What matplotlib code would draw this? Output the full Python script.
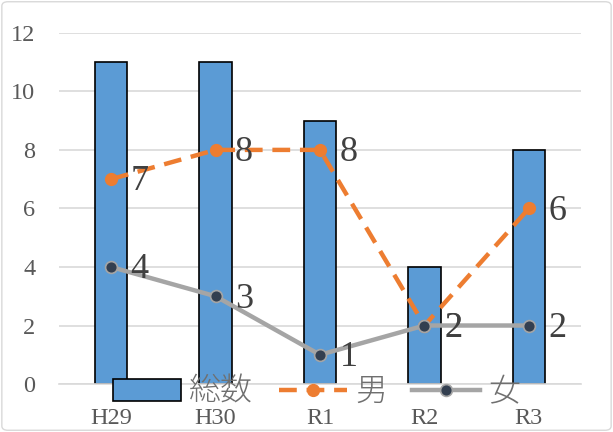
import matplotlib
matplotlib.use("Agg")
import matplotlib.pyplot as plt
from matplotlib.patches import FancyBboxPatch

categories = ["H29", "H30", "R1", "R2", "R3"]
total = [11, 11, 9, 4, 8]
male = [7, 8, 8, 2, 6]
female = [4, 3, 1, 2, 2]
yticks = [0, 2, 4, 6, 8, 10, 12]

serif = ["Liberation Serif", "DejaVu Serif"]
cjk = ["Noto Sans CJK JP", "DejaVu Sans"]

fig = plt.figure(figsize=(6.13, 4.32), dpi=100)
ax = fig.add_axes([0.096, 0.111, 0.852, 0.813])

x = list(range(len(categories)))
h_bar = ax.bar(x, total, width=0.31, color="#5B9BD5", edgecolor="black", linewidth=1.2,
               label="総数", zorder=2)
h_m, = ax.plot(x, male, color="#ED7D31", linestyle=(0, (4.0, 2.2)), linewidth=3.2,
               marker="o", markersize=8.5, markerfacecolor="#ED7D31",
               markeredgecolor="#ED7D31", label="男", zorder=3)
h_f, = ax.plot(x, female, color="#A5A5A5", linestyle="-", linewidth=3.2,
               marker="o", markersize=8.5, markerfacecolor="#333F50",
               markeredgecolor="#A5A5A5", markeredgewidth=1.2, label="女", zorder=3)

for xi, v in zip(x, male):
    ax.annotate(str(v), (xi, v), xytext=(14, -2), textcoords="offset points",
                ha="left", va="center", fontsize=26, color="#404040",
                family=serif, zorder=4)
for xi, v in zip(x, female):
    ax.annotate(str(v), (xi, v), xytext=(14, -2), textcoords="offset points",
                ha="left", va="center", fontsize=26, color="#404040",
                family=serif, zorder=4)

ax.set_xlim(-0.5, len(categories) - 0.5)
ax.set_ylim(0, 12)
ax.set_yticks(yticks)
ax.set_xticks(x)
ax.set_xticklabels(categories)
ax.grid(axis="y", color="#D9D9D9", linewidth=1.2, zorder=0)
ax.set_axisbelow(True)
for s in ["top", "right", "left"]:
    ax.spines[s].set_visible(False)
ax.spines["bottom"].set_color("#D9D9D9")
ax.spines["bottom"].set_linewidth(1.2)
ax.tick_params(length=0, labelsize=17.5, labelcolor="#595959")
for lab in ax.get_xticklabels() + ax.get_yticklabels():
    lab.set_family(serif)
ax.tick_params(axis="y", pad=17)
ax.tick_params(axis="x", pad=17)

leg = ax.legend([h_bar, h_m, h_f], ["総数", "男", "女"],
                loc="center", bbox_to_anchor=(0.494, -0.022), ncol=3, frameon=False,
                prop={"family": cjk, "size": 23, "weight": "light"}, handlelength=2.13,
                columnspacing=0.8, handletextpad=0.25, borderpad=0, borderaxespad=0)
for t in leg.get_texts():
    t.set_color("#6F6F6F")

border = FancyBboxPatch((0.003, 0.004), 0.994, 0.992, boxstyle="round,pad=0,rounding_size=0.01",
                        transform=fig.transFigure, fill=False, edgecolor="#D9D9D9",
                        linewidth=1.0)
fig.patches.append(border)

fig.savefig("out.png", dpi=100)
